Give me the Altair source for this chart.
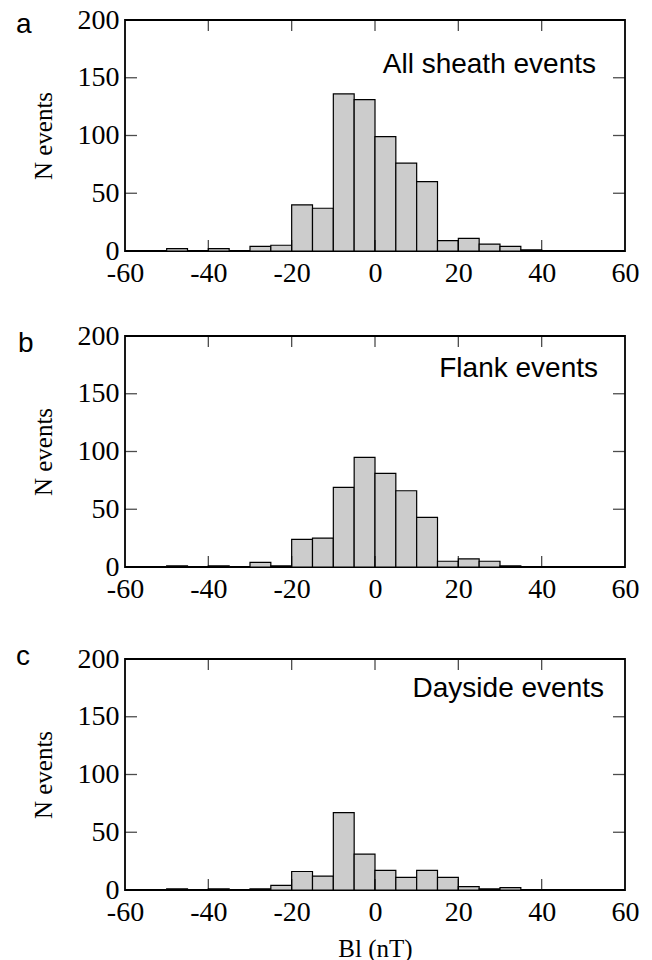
import altair as alt
import pandas as pd

# ---- data ----
bin_start = [-50, -45, -40, -35, -30, -25, -20, -15, -10, -5, 0, 5, 10, 15, 20, 25, 30, 35]
bin_width = 5
counts_all = [2, 0, 2, 0, 4, 5, 40, 37, 136, 131, 99, 76, 60, 9, 11, 6, 4, 1]
counts_flank = [1, 0, 1, 0, 4, 1, 24, 25, 69, 95, 81, 66, 43, 5, 7, 5, 1, 0]
counts_day = [1, 0, 1, 0, 1, 4, 16, 12, 67, 31, 17, 11, 17, 11, 3, 1, 2, 0]
panel_letters = ["a", "b", "c"]
panel_titles = ["All sheath events", "Flank events", "Dayside events"]
x_label_values = [-60, -40, -20, 0, 20, 40, 60]
y_label_values = [0, 50, 100, 150, 200]
x_tick_values = [-40, -20, 0, 20, 40]
y_tick_values = [50, 100, 150]

W, H = 500, 231
SERIF = "Liberation Serif"
SANS = "Liberation Sans"

xs = alt.Scale(domain=[-60, 60], nice=False, zero=False)
ys = alt.Scale(domain=[0, 200], nice=False, zero=False)


def x_axis(show_title):
    kw = dict(values=x_label_values, labelExpr="'' + datum.value", labelFont=SERIF,
              labelFontSize=28, labelColor="black", labelFlush=False, labelOverlap=False,
              labelPadding=8, ticks=False, domain=False, grid=False)
    if show_title:
        return alt.Axis(title="Bl (nT)", titleFont=SERIF, titleFontSize=25,
                        titleFontWeight="normal", titleColor="black", titlePadding=10, **kw)
    return alt.Axis(title=None, **kw)


y_axis = alt.Axis(values=y_label_values, labelExpr="'' + datum.value", labelFont=SERIF,
                  labelFontSize=28, labelColor="black", labelPadding=6, ticks=False,
                  domain=False, grid=False, title="N events", titleFont=SERIF,
                  titleFontSize=25, titleFontWeight="normal", titleColor="black",
                  titlePadding=21)


def panel(counts, letter, title, show_xtitle, letter_pos, title_pos):
    df = pd.DataFrame({"start": bin_start,
                       "end": [s + bin_width for s in bin_start],
                       "n": counts})
    df = df[df["n"] > 0]
    xa = x_axis(show_xtitle)
    bars = alt.Chart(df).mark_rect(fill="#cccccc", stroke="black", strokeWidth=1.2).encode(
        x=alt.X("start:Q", scale=xs, axis=xa),
        x2="end:Q",
        y=alt.Y("n:Q", scale=ys, axis=y_axis),
        y2=alt.datum(0),
    )
    xt = pd.DataFrame({"v": x_tick_values})
    yt = pd.DataFrame({"v": y_tick_values})
    bottom = alt.Chart(xt).mark_tick(color="black", size=11, thickness=1.3, yOffset=-5.5).encode(
        x=alt.X("v:Q", scale=xs, axis=xa), y=alt.value(H))
    top = alt.Chart(xt).mark_tick(color="black", size=11, thickness=1.3, yOffset=5.5).encode(
        x=alt.X("v:Q", scale=xs, axis=xa), y=alt.value(0))
    left = alt.Chart(yt).mark_tick(color="black", size=12, thickness=1.3, xOffset=6).encode(
        y=alt.Y("v:Q", scale=ys, axis=y_axis), x=alt.value(0))
    right = alt.Chart(yt).mark_tick(color="black", size=12, thickness=1.3, xOffset=-6).encode(
        y=alt.Y("v:Q", scale=ys, axis=y_axis), x=alt.value(W))
    let = alt.Chart(pd.DataFrame({"t": [letter]})).mark_text(
        font=SANS, fontSize=28, align="left", baseline="alphabetic", color="black").encode(
        text="t:N", x=alt.value(letter_pos[0]), y=alt.value(letter_pos[1]))
    tit = alt.Chart(pd.DataFrame({"t": [title]})).mark_text(
        font=SANS, fontSize=28, align="right", baseline="alphabetic", color="black").encode(
        text="t:N", x=alt.value(title_pos[0]), y=alt.value(title_pos[1]))
    return alt.layer(bars, bottom, top, left, right, let, tit).properties(width=W, height=H)


pa = panel(counts_all, panel_letters[0], panel_titles[0], False, (-109, 13), (471, 53))
pb = panel(counts_flank, panel_letters[1], panel_titles[1], False, (-107, 16), (473, 41))
pc = panel(counts_day, panel_letters[2], panel_titles[2], True, (-109, 6), (479, 38))

chart = alt.vconcat(alt.vconcat(pa, pb, spacing=33), pc, spacing=38).properties(
    padding={"left": 15, "top": 5, "right": 5, "bottom": 0},
    background="white",
).configure_view(stroke="black", strokeWidth=1.8)

chart.save("out.html", embed_options={"renderer": "svg", "actions": False})
